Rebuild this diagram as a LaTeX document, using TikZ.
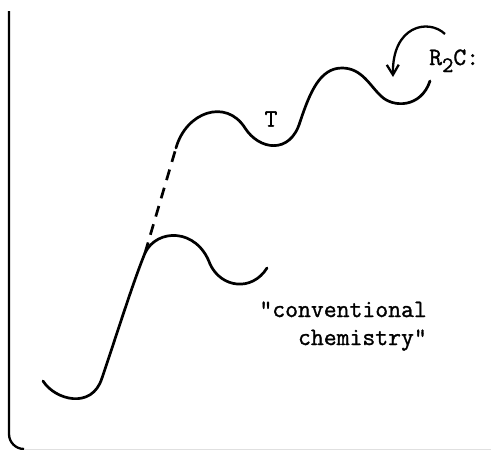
\documentclass[tikz,border=0pt]{standalone}
\usepackage{fontspec}
\newfontfamily\typew[FakeBold=1.3]{Latin Modern Mono}
\usetikzlibrary{arrows.meta}
\tikzset{
  curve/.style={line width=2.7pt, line cap=round, line join=round},
  lbl/.style={font=\typew\fontsize{25}{28}\selectfont, inner sep=0pt}
}
\begin{document}
\begin{tikzpicture}[x=1pt,y=-1pt]
\useasboundingbox (0,0) rectangle (491,450);
% frame
\draw[line width=2.3pt] (9,11) -- (9,434) arc[start angle=180, end angle=90, radius=15] -- (24,449);
\draw[line width=1.2pt, black!12] (24,449.4) -- (491,449.4);
% lower curve
\draw[curve] (43,381) .. controls (55,400) and (92,410) .. (102,378)
  .. controls (115,340) and (132,285) .. (145,253)
  .. controls (157,228) and (197,228) .. (210,264)
  .. controls (221,288) and (252,292) .. (267,268);
% dashed link
\draw[curve, line cap=butt, dash pattern=on 11pt off 8pt] (145,253) -- (176,148);
% upper curve
\draw[curve] (176,148) .. controls (186,112) and (226,98) .. (245,128)
  .. controls (259,150) and (290,155) .. (300,122)
  .. controls (310,92) and (320,68) .. (342,68)
  .. controls (362,68) and (370,86) .. (381,96)
  .. controls (393,108) and (421,108) .. (430,81);
% arrow
\coordinate (as) at (445,34);
\coordinate (ae) at (393,77);
\draw[line width=2.3pt, -{Straight Barb[length=10pt,width=12pt,line width=2.3pt]}]
  (as) .. controls (428,18) and (392,26) .. (ae);
% labels
\node[lbl] (t) at (271,119) {T};
\node[lbl, anchor=base west] (r2c) at (429,65) {R\raisebox{-7pt}{\fontsize{22}{24}\selectfont 2}C:};
\node[lbl, anchor=base east] (c1) at (427,317) {"conventional};
\node[lbl, anchor=base east] (c2) at (427,345) {chemistry"};
\end{tikzpicture}
\end{document}
